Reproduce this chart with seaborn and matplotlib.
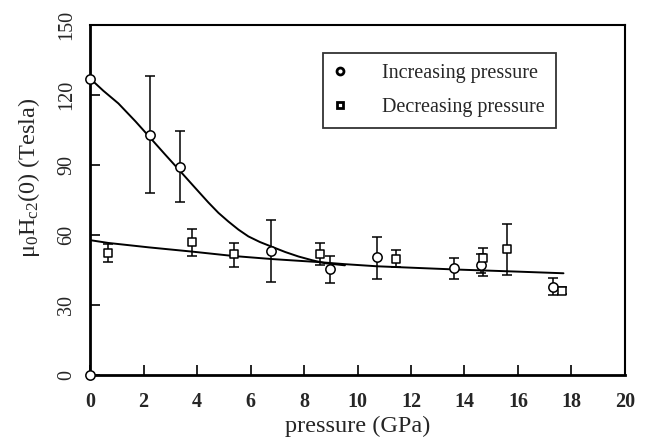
import numpy as np
import pandas as pd
import seaborn as sns
import matplotlib.pyplot as plt
from matplotlib.lines import Line2D

# increasing pressure (circles)
inc_p = [0.0, 0.0, 2.25, 3.35, 6.78, 8.97, 10.72, 13.6, 14.6, 17.32]
inc_h = [127.0, 0.0, 103.0, 89.0, 53.0, 45.5, 50.5, 45.7, 47.0, 37.5]
inc_hi = [127.0, 0.0, 128.0, 104.5, 66.5, 51.0, 59.0, 50.3, 52.0, 41.4]
inc_lo = [127.0, 0.0, 78.0, 74.0, 40.0, 39.6, 41.0, 41.3, 43.5, 34.3]

# decreasing pressure (squares)
dec_p = [0.68, 3.8, 5.4, 8.6, 11.43, 14.68, 15.58, 17.66]
dec_h = [52.5, 56.8, 51.9, 51.8, 49.9, 50.0, 53.8, 36.0]
dec_hi = [56.0, 62.4, 56.7, 56.4, 53.6, 54.6, 64.6, 37.5]
dec_lo = [48.3, 51.0, 46.4, 47.1, 46.4, 42.6, 42.9, 34.5]

# fitted curves
fit_inc_p = [0.0, 0.5, 1.06, 1.7, 2.24, 2.8, 3.36, 3.9, 4.42, 4.8, 5.17, 5.55, 5.92,
             6.35, 6.79, 7.3, 7.79, 8.3, 8.79, 9.53]
fit_inc_h = [127.1, 121.8, 116.4, 108.7, 101.8, 94.6, 87.5, 80.6, 74.0, 69.5, 65.8,
             62.3, 59.4, 57.0, 55.0, 52.7, 50.8, 49.2, 47.9, 47.0]
fit_dec_p = [0.0, 0.68, 2.2, 3.8, 5.36, 6.79, 8.54, 9.53, 10.72, 12.2, 13.7, 16.0, 17.7]
fit_dec_h = [57.8, 56.6, 54.7, 52.9, 51.0, 49.7, 48.4, 47.5, 46.6, 45.9, 45.2, 44.3, 43.6]

x_ticks = [0, 2, 4, 6, 8, 10, 12, 14, 16, 18, 20]
y_ticks = [0, 30, 60, 90, 120, 150]

sns.set_style("ticks")
plt.rcParams['font.family'] = ['Liberation Serif', 'DejaVu Serif']
plt.rcParams['mathtext.fontset'] = 'custom'
plt.rcParams['mathtext.rm'] = 'Liberation Serif'
plt.rcParams['mathtext.it'] = 'Liberation Serif:italic'

fig = plt.figure(figsize=(6.49, 4.42), dpi=100)
ax = fig.add_axes([0.1387, 0.1516, 0.8243, 0.7918])

fits = pd.concat([
    pd.DataFrame({'p': fit_inc_p, 'h': fit_inc_h, 'run': 'inc'}),
    pd.DataFrame({'p': fit_dec_p, 'h': fit_dec_h, 'run': 'dec'}),
])
sns.lineplot(data=fits, x='p', y='h', units='run', estimator=None, color='black',
             lw=1.4, sort=False, ax=ax, legend=False)

inc = pd.DataFrame({'p': inc_p, 'h': inc_h})
dec = pd.DataFrame({'p': dec_p, 'h': dec_h})

ax.errorbar(inc_p, inc_h,
            yerr=[np.array(inc_h) - np.array(inc_lo), np.array(inc_hi) - np.array(inc_h)],
            fmt='none', ecolor='black', elinewidth=1.1, capsize=3.5, capthick=1.1)
ax.errorbar(dec_p, dec_h,
            yerr=[np.array(dec_h) - np.array(dec_lo), np.array(dec_hi) - np.array(dec_h)],
            fmt='none', ecolor='black', elinewidth=1.1, capsize=3.5, capthick=1.1)

sns.scatterplot(data=inc, x='p', y='h', marker='o', s=45, facecolor='white',
                edgecolor='black', linewidth=1.1, ax=ax, zorder=5, clip_on=False)
sns.scatterplot(data=dec, x='p', y='h', marker='s', s=35, facecolor='white',
                edgecolor='black', linewidth=1.1, ax=ax, zorder=5, clip_on=False)

ax.set_xlim(0, 20)
ax.set_ylim(0, 150)
ax.set_xticks(x_ticks)
ax.set_yticks(y_ticks)
ax.set_xticklabels([str(t) for t in x_ticks], fontsize=14.5, fontweight='bold')
ax.set_yticklabels([str(t) for t in y_ticks], fontsize=14.5, rotation=90, va='center')
ax.tick_params(direction='in', length=7, width=1.2, color='black')
ax.tick_params(axis='x', pad=12)
ax.tick_params(axis='y', pad=10)
for side in ['left', 'bottom']:
    ax.spines[side].set_linewidth(2.0)
for side in ['top', 'right']:
    ax.spines[side].set_linewidth(1.5)
for sp in ax.spines.values():
    sp.set_color('black')

ax.set_xlabel('pressure (GPa)', fontsize=17.5, labelpad=3)
ax.set_ylabel(r'μ$_0$H$_{\mathrm{c2}}$(0) (Tesla)', fontsize=17.5)
ax.yaxis.set_label_coords(-0.09, 0.563)

handles = [
    Line2D([], [], marker='o', ls='none', mfc='white', mec='black', mew=2, ms=5),
    Line2D([], [], marker='s', ls='none', mfc='white', mec='black', mew=2, ms=5),
]
leg = ax.legend(handles, ['Increasing pressure', 'Decreasing pressure'],
                loc='upper left', bbox_to_anchor=(0.4355, 0.92), fontsize=14.5,
                frameon=True, fancybox=False, edgecolor='black', handlelength=0.6,
                handletextpad=1.8, borderpad=0.55, labelspacing=0.75, borderaxespad=0)
leg.get_frame().set_linewidth(1.3)

fig.savefig('out.png', dpi=100)
